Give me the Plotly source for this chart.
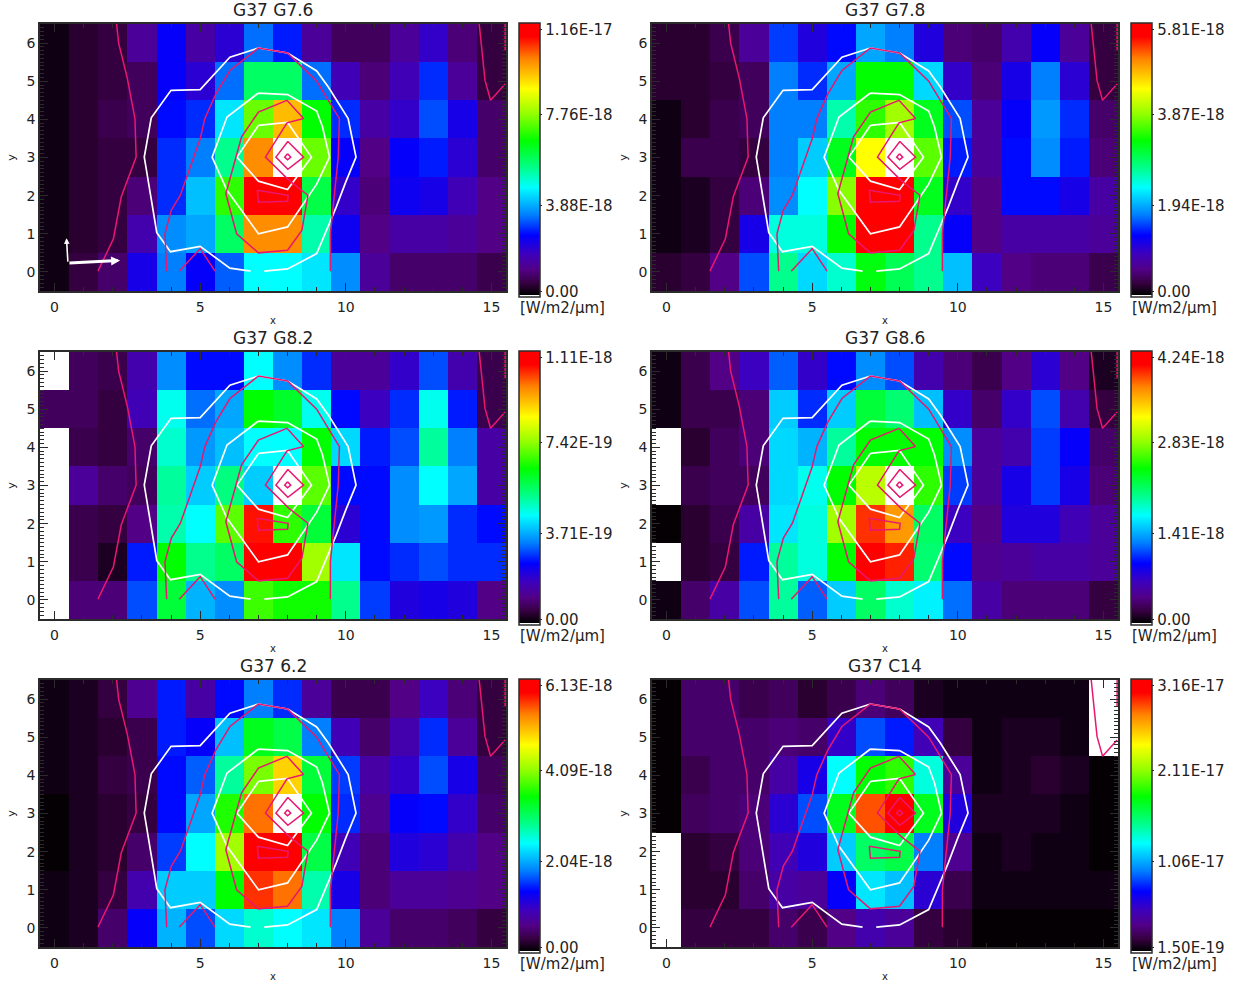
import plotly.graph_objects as go

# Panel identity
TITLES = ["G37 G7.6", "G37 G7.8", "G37 G8.2", "G37 G8.6", "G37 6.2", "G37 C14"]
SCALE_LOW = [0.0, 0.0, 0.0, 0.0, 0.0, 1.5e-19]
SCALE_TOP = [1.16e-17, 5.81e-18, 1.11e-18, 4.24e-18, 6.13e-18, 3.16e-17]
SCALE_TEXT = [
    ["0.00", "3.88E-18", "7.76E-18", "1.16E-17"],
    ["0.00", "1.94E-18", "3.87E-18", "5.81E-18"],
    ["0.00", "3.71E-19", "7.42E-19", "1.11E-18"],
    ["0.00", "1.41E-18", "2.83E-18", "4.24E-18"],
    ["0.00", "2.04E-18", "4.09E-18", "6.13E-18"],
    ["1.50E-19", "1.06E-17", "2.11E-17", "3.16E-17"],
]
UNIT_LABEL = "[W/m2/μm]"

X_CELLS = list(range(16))
Y_CELLS = [6, 5, 4, 3, 2, 1, 0]
N = None

# Cell brightness as a share of each panel's scale range, rows y=6 down to y=0.
G76 = [
    [.02, .04, .05, .12, .22, .13, .18, .29, .24, .12, .07, .07, .12, .17, .09, .05],
    [.02, .04, .05, .07, .22, .18, .29, .50, .50, .29, .15, .09, .15, .25, .12, .05],
    [.02, .04, .06, .07, .23, .25, .38, .64, .82, .57, .25, .13, .17, .27, .20, .08],
    [.02, .04, .05, .05, .25, .30, .47, .86, N, .64, .22, .10, .22, .24, .18, .08],
    [.02, .04, .05, .09, .25, .35, .60, .97, .97, .52, .17, .09, .21, .20, .15, .10],
    [.02, .04, .05, .14, .31, .33, .50, .86, .86, .45, .21, .10, .13, .13, .12, .10],
    [.02, .05, .08, .20, .30, .22, .28, .40, .40, .38, .31, .12, .08, .08, .08, .06],
]
G78 = [
    [.04, .04, .06, .12, .26, .19, .23, .33, .30, .19, .09, .08, .14, .22, .12, .05],
    [.04, .04, .05, .07, .30, .25, .33, .57, .57, .37, .17, .09, .20, .30, .18, .05],
    [.02, .04, .06, .07, .30, .30, .45, .60, .68, .55, .27, .12, .22, .32, .25, .08],
    [.02, .06, .06, .05, .30, .36, .55, .76, N, .63, .24, .12, .23, .31, .24, .09],
    [.02, .03, .05, .09, .31, .40, .66, .97, .97, .55, .17, .10, .23, .23, .20, .13],
    [.02, .03, .05, .20, .42, .42, .57, .97, .97, .47, .22, .10, .13, .13, .13, .12],
    [.04, .05, .10, .27, .47, .37, .43, .56, .51, .47, .35, .16, .10, .09, .09, .06],
]
G82 = [
    [N, .07, .06, .14, .31, .23, .23, .40, .31, .25, .12, .12, .17, .27, .14, .06],
    [.07, .07, .05, .15, .41, .29, .33, .57, .54, .41, .23, .16, .25, .41, .24, .06],
    [N, .06, .05, .08, .43, .32, .35, .40, .40, .57, .37, .24, .27, .46, .30, .13],
    [N, .12, .08, .07, .46, .36, .48, .36, N, .63, .23, .23, .31, .40, .33, .13],
    [N, .06, .05, .10, .45, .40, .63, .94, .60, .53, .18, .23, .31, .32, .25, .23],
    [N, .06, .03, .24, .57, .47, .50, .97, .97, .68, .38, .23, .25, .27, .25, .25],
    [N, .09, .09, .27, .53, .34, .31, .61, .58, .58, .47, .26, .19, .20, .19, .10],
]
G86 = [
    [.02, .06, .10, .16, .28, .17, .23, .31, .27, .14, .09, .06, .10, .18, .10, .03],
    [.02, .06, .06, .09, .36, .25, .36, .53, .49, .35, .17, .08, .17, .27, .14, .05],
    [N, .04, .07, .09, .37, .34, .46, .57, .57, .57, .31, .12, .14, .26, .22, .08],
    [N, .06, .07, .07, .37, .41, .57, .70, N, .60, .26, .12, .20, .26, .20, .09],
    [.01, .04, .06, .13, .38, .42, .68, .92, .85, .50, .16, .10, .19, .19, .15, .12],
    [N, .04, .05, .24, .46, .42, .57, .97, .93, .49, .23, .11, .12, .13, .13, .12],
    [.02, .08, .13, .27, .46, .28, .36, .50, .43, .39, .29, .13, .09, .09, .09, .05],
]
B62 = [
    [.02, .03, .05, .11, .24, .13, .23, .30, .25, .12, .06, .06, .10, .16, .09, .05],
    [.02, .03, .04, .06, .24, .22, .35, .55, .52, .30, .15, .08, .14, .25, .12, .05],
    [.02, .03, .05, .06, .23, .28, .46, .65, .80, .53, .26, .13, .17, .27, .20, .07],
    [.01, .03, .04, .05, .23, .33, .59, .88, N, .57, .25, .11, .22, .23, .17, .08],
    [.01, .03, .04, .08, .26, .40, .68, .97, .97, .52, .15, .09, .19, .18, .14, .10],
    [.02, .03, .05, .14, .36, .36, .57, .92, .88, .45, .20, .09, .12, .12, .11, .10],
    [.02, .03, .08, .22, .34, .27, .37, .43, .40, .38, .30, .12, .08, .08, .07, .05],
]
C14 = [
    [.01, .08, .08, .06, .07, .04, .06, .09, .07, .03, .02, .02, .02, .02, .02, N],
    [.01, .08, .08, .08, .09, .08, .17, .27, .24, .15, .05, .02, .03, .03, .02, N],
    [.01, .06, .08, .08, .13, .20, .40, .57, .60, .42, .12, .02, .03, .04, .03, .01],
    [.01, .07, .08, .09, .18, .27, .55, .90, .97, .55, .19, .03, .03, .03, .02, .01],
    [N, .04, .05, .09, .15, .19, .36, .50, .52, .30, .11, .02, .03, .02, .02, .01],
    [N, .04, .04, .08, .13, .12, .22, .38, .35, .18, .06, .02, .02, .02, .02, .02],
    [N, .05, .05, .05, .08, .06, .10, .14, .12, .05, .04, .01, .01, .01, .01, .01],
]
PANELS = [G76, G78, G82, G86, B62, C14]

# Overlaid contours, shared by all panels
WHITE_CONTOURS = [
    ([6.73, 6.02, 5.0, 3.98, 3.51, 3.08, 3.32, 4.0, 5.0, 6.02, 7.0, 8.0, 9.0, 9.4, 10.08, 10.35, 10.0, 9.67, 9.0, 8.0, 7.2],
     [0.02, 0.10, 0.67, 0.53, 1.03, 3.01, 4.04, 4.76, 4.78, 5.63, 5.87, 5.74, 5.27, 4.85, 4.02, 3.01, 2.36, 1.70, 0.48, 0.08, 0.02]),
    ([7.0, 8.0, 9.0, 9.2, 9.44, 9.0, 8.0, 7.0, 5.92, 5.41, 5.92, 7.0],
     [4.69, 4.65, 4.22, 3.8, 3.01, 2.3, 1.18, 1.0, 2.14, 3.01, 4.06, 4.69]),
    ([7.0, 8.0, 8.82, 8.0, 7.0, 6.26, 7.0],
     [3.84, 3.92, 3.01, 2.16, 2.38, 3.01, 3.84]),
]
PINK_CONTOURS = [
    ([2.13, 2.2, 2.5, 2.76, 2.8, 2.29, 2.02, 1.49],
     [6.5, 6.0, 5.07, 4.02, 3.01, 1.97, 0.87, 0.02]),
    ([3.85, 3.79, 4.01, 4.32, 5.0, 5.16, 5.54, 6.02, 7.0, 8.0, 9.0, 9.78, 9.74, 9.47, 9.47],
     [0.02, 1.0, 1.62, 2.01, 3.49, 4.02, 4.67, 5.28, 5.87, 5.74, 5.0, 4.02, 3.01, 1.0, 0.02]),
    ([4.28, 5.0, 5.51], [0.02, 0.61, 0.02]),
    ([8.55, 7.98, 7.0, 6.42, 5.88, 6.25, 7.0, 8.0, 8.49, 8.7, 8.05, 7.64, 7.24, 7.98, 8.55],
     [4.02, 4.5, 4.19, 3.54, 2.05, 1.0, 0.5, 0.57, 1.09, 2.01, 2.4, 2.71, 3.01, 3.91, 4.02]),
    ([6.96, 8.02, 8.0, 7.0, 6.96], [2.14, 2.01, 1.85, 1.83, 2.14]),
    ([8.01, 8.55, 8.01, 7.6, 8.01], [3.42, 3.01, 2.69, 3.01, 3.42]),
    ([8.0, 8.11, 8.0, 7.9, 8.0], [3.1, 3.01, 2.94, 3.01, 3.1]),
    ([14.58, 14.78, 14.97, 15.47], [6.5, 5.02, 4.5, 4.93]),
    ([15.47, 15.47], [6.5, 5.79]),
]

W, H = 1244, 992
LEFTS = [40, 652]
TOPS = [24, 352, 680]
AX_W, AX_H = 466, 267
BAR_OFFSET, BAR_THICK, BAR_LEN = 479, 21, 274
INK = "#2b2b2b"
TEXT = "#222222"
FONT = "DejaVu Sans"
PINK = "#e8176f"


def px(v):
    return v / W


def py(v):
    return 1 - v / H


COLORSCALE = [
    [0.0, "#ffffff"], [0.006, "#ffffff"], [0.007, "#000000"],
    [0.05, "#35003f"], [0.10, "#520086"], [0.16, "#3c00c0"],
    [0.225, "#0000ff"], [0.30, "#0080ff"], [0.40, "#00ffff"],
    [0.47, "#00ff8c"], [0.57, "#00ff00"], [0.67, "#96ff00"],
    [0.76, "#ffff00"], [0.87, "#ff8200"], [0.95, "#ff0000"], [1.0, "#ff0000"],
]

fig = go.Figure()
layout = {}
annotations = []

for i, frac in enumerate(PANELS):
    col, row = i % 2, i // 2
    left, top = LEFTS[col], TOPS[row]
    sfx = "" if i == 0 else str(i + 1)
    twin = str(i + 7)
    low, high = SCALE_LOW[i], SCALE_TOP[i]
    span = high - low
    z = [[None if v is None else low + v * span for v in r] for r in frac]
    ticks = [low + 0.02 * span, low + span / 3, low + 2 * span / 3, low + 0.975 * span]
    fig.add_trace(go.Heatmap(
        z=z, x=X_CELLS, y=Y_CELLS, zmin=low, zmax=high, colorscale=COLORSCALE,
        xaxis="x" + sfx, yaxis="y" + sfx, hoverongaps=False,
        colorbar=dict(
            x=px(left + BAR_OFFSET), xanchor="left", xpad=0,
            y=py(top - 1 + BAR_LEN), yanchor="bottom", ypad=0,
            len=BAR_LEN / H, lenmode="fraction", thickness=BAR_THICK,
            outlinecolor=INK, outlinewidth=1.5,
            tickmode="array", tickvals=ticks, ticktext=SCALE_TEXT[i],
            ticks="outside", ticklen=2, tickcolor=INK,
            tickfont=dict(family=FONT, size=15, color=TEXT),
        ),
    ))
    for cx, cy in WHITE_CONTOURS:
        fig.add_trace(go.Scatter(x=cx, y=cy, mode="lines", showlegend=False,
                                 xaxis="x" + sfx, yaxis="y" + sfx,
                                 line=dict(color="white", width=1.7)))
    for cx, cy in PINK_CONTOURS:
        fig.add_trace(go.Scatter(x=cx, y=cy, mode="lines", showlegend=False,
                                 xaxis="x" + sfx, yaxis="y" + sfx,
                                 line=dict(color=PINK, width=1.5)))
    # Empty trace on an overlay axis pair that repeats the tick marks above the cells
    fig.add_trace(go.Scatter(x=[None], y=[None], mode="lines", showlegend=False,
                             hoverinfo="skip", xaxis="x" + twin, yaxis="y" + twin))
    common = dict(showline=True, linecolor=INK, linewidth=1.5, mirror="ticks",
                  ticks="inside", tickcolor=INK, tickwidth=1, showgrid=False, zeroline=False,
                  tickfont=dict(family=FONT, size=14, color=TEXT))
    x_ticks = dict(tickmode="linear", tick0=0, dtick=5, ticklen=8,
                   minor=dict(dtick=1, ticks="inside", ticklen=4, tickcolor=INK, showgrid=False))
    y_ticks = dict(tickmode="linear", tick0=0, dtick=1, ticklen=8,
                   minor=dict(dtick=0.1, ticks="inside", ticklen=4, tickcolor=INK, showgrid=False))
    x_dom = [px(left), px(left + AX_W)]
    y_dom = [py(top + AX_H), py(top)]
    layout["xaxis" + sfx] = dict(
        common, domain=x_dom, range=[-0.5, 15.5], anchor="y" + sfx, ticklabelstandoff=2,
        title=dict(text="x", font=dict(family=FONT, size=10, color=TEXT), standoff=3),
        **x_ticks,
    )
    layout["yaxis" + sfx] = dict(
        common, domain=y_dom, range=[-0.5, 6.5], anchor="x" + sfx,
        title=dict(text="y", font=dict(family=FONT, size=11, color=TEXT), standoff=9),
        **y_ticks,
    )
    layout["xaxis" + twin] = dict(
        common, domain=x_dom, range=[-0.5, 15.5], anchor="y" + twin,
        overlaying="x" + sfx, showticklabels=False, **x_ticks)
    layout["yaxis" + twin] = dict(
        common, domain=y_dom, range=[-0.5, 6.5], anchor="x" + twin,
        overlaying="y" + sfx, showticklabels=False, **y_ticks)
    annotations.append(dict(
        text=TITLES[i], xref="paper", yref="paper", x=px(left + AX_W / 2), y=py(top - 14),
        xanchor="center", yanchor="middle", showarrow=False,
        font=dict(family=FONT, size=17, color=TEXT)))
    annotations.append(dict(
        text=UNIT_LABEL, xref="paper", yref="paper", x=px(left + BAR_OFFSET - 1), y=py(top + 284),
        xanchor="left", yanchor="middle", showarrow=False,
        font=dict(family=FONT, size=15, color=TEXT)))

# Compass arrows, first panel only
annotations.append(dict(x=2.25, y=0.30, ax=0.46, ay=0.23, xref="x", yref="y", axref="x", ayref="y",
                        text="", showarrow=True, arrowhead=2, arrowsize=0.6, arrowwidth=3, arrowcolor="white"))
annotations.append(dict(x=0.41, y=0.88, ax=0.46, ay=0.23, xref="x", yref="y", axref="x", ayref="y",
                        text="", showarrow=True, arrowhead=2, arrowsize=0.7, arrowwidth=1.6, arrowcolor="white"))

fig.update_layout(width=W, height=H, margin=dict(l=0, r=0, t=0, b=0), autosize=False,
                  paper_bgcolor="white", plot_bgcolor="white", showlegend=False,
                  annotations=annotations, **layout)

fig.write_html("out.html", config={"displayModeBar": False},
               post_script="document.body.style.margin='0';document.body.style.overflow='hidden';")
